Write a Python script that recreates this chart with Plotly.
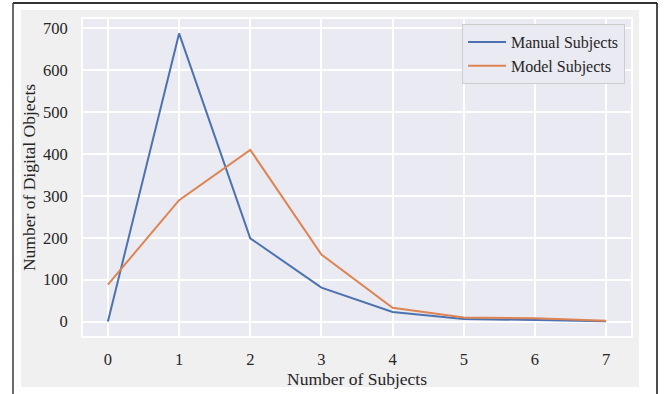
import plotly.graph_objects as go

subjects = [0, 1, 2, 3, 4, 5, 6, 7]
manual_counts = [0, 688, 199, 81, 23, 6, 4, 1]
model_counts = [88, 290, 410, 160, 33, 10, 8, 2]
y_ticks = [0, 100, 200, 300, 400, 500, 600, 700]

W, H = 667, 394
L, R, T, B = 83, 631, 19, 336

def px(x):
    return (x - L) / (R - L)

def py(y):
    return (B - y) / (B - T)

FONT = "Liberation Serif, Times New Roman, serif"

fig = go.Figure()
fig.add_trace(go.Scatter(x=subjects, y=manual_counts, mode="lines", name="Manual Subjects",
                         line=dict(color="#4c72b0", width=2)))
fig.add_trace(go.Scatter(x=subjects, y=model_counts, mode="lines", name="Model Subjects",
                         line=dict(color="#dd8452", width=2)))

shapes = []
for (x0, y0, x1, y1) in [(0, 0, 21, H), (639, 0, W, H), (0, 0, W, 10), (0, 387, W, H)]:
    shapes.append(dict(type="rect", xref="paper", yref="paper", x0=px(x0), x1=px(x1),
                       y0=py(y0), y1=py(y1), fillcolor="white", line=dict(width=0), layer="above"))
shapes.append(dict(type="line", xref="paper", yref="paper", x0=px(13), x1=px(13), y0=py(3), y1=py(H + 2),
                   line=dict(color="#6a6a6a", width=2)))
shapes.append(dict(type="line", xref="paper", yref="paper", x0=px(13), x1=px(657), y0=py(3), y1=py(3),
                   line=dict(color="#333333", width=2)))
shapes.append(dict(type="line", xref="paper", yref="paper", x0=px(657), x1=px(657), y0=py(3), y1=py(H + 2),
                   line=dict(color="#111111", width=1.5)))

fig.update_layout(
    width=W, height=H,
    margin=dict(l=L, r=W - R, t=T, b=H - B, autoexpand=False),
    paper_bgcolor="#f0f0f0",
    plot_bgcolor="#eaeaf2",
    font=dict(family=FONT, size=16.5, color="#262626"),
    shapes=shapes,
    legend=dict(x=px(462), y=py(24), xanchor="left", yanchor="top",
                bgcolor="#eaeaf2", bordercolor="#cccccc", borderwidth=1,
                font=dict(family=FONT, size=16, color="#262626"),
                tracegroupgap=0, itemwidth=38),
    showlegend=True,
)
fig.update_xaxes(range=[-0.35, 7.35], tickvals=subjects, ticktext=[str(s) for s in subjects],
                 showgrid=True, gridcolor="white", gridwidth=1.5, zeroline=False,
                 showline=True, linecolor="white", linewidth=2, mirror=True,
                 ticks="", ticklabelstandoff=7,
                 title=dict(text="Number of Subjects", standoff=2, font=dict(size=17.5)))
fig.update_yaxes(range=[-34.4, 722.4], tickvals=y_ticks, ticktext=[str(v) for v in y_ticks],
                 showgrid=True, gridcolor="white", gridwidth=1.5, zeroline=False,
                 showline=True, linecolor="white", linewidth=2, mirror=True,
                 ticks="", ticklabelstandoff=10,
                 title=dict(text="Number of Digital Objects", standoff=3, font=dict(size=17.5)))

fig.write_html("out.html")
